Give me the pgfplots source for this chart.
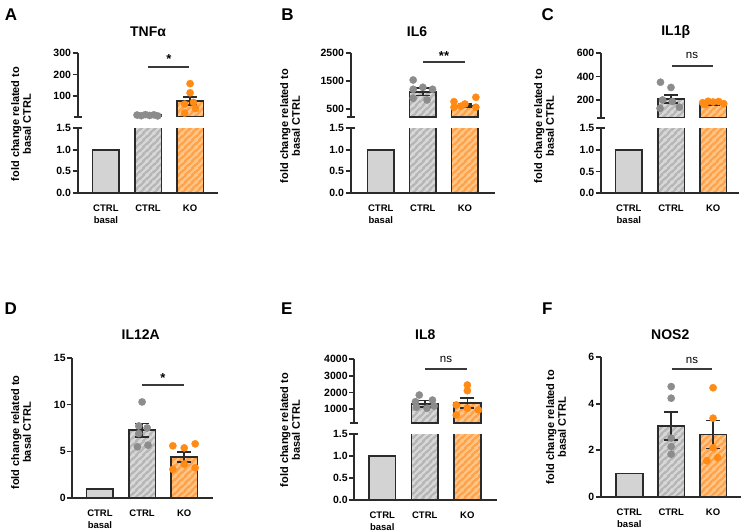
\documentclass[border=0pt]{standalone}
\usepackage{fontspec}
\setmainfont{Liberation Sans}
\usepackage{pgfplots}
\pgfplotsset{compat=1.18}
\usetikzlibrary{patterns}

\definecolor{edge}{HTML}{2B2B2B}
\definecolor{basalfill}{HTML}{D3D3D3}
\definecolor{ctrlfill}{HTML}{B6B6B6}
\definecolor{ctrlstripe}{HTML}{D8D8D8}
\definecolor{kofill}{HTML}{FFA24A}
\definecolor{kostripe}{HTML}{FFC688}
\definecolor{greydot}{HTML}{8C8C8C}
\definecolor{orangedot}{HTML}{FF8A14}
\definecolor{sigline}{HTML}{3A3A3A}

% diagonal stripes, 7pt period, with the corner pieces so tiles join
\pgfdeclarepatternformonly{stripes}{\pgfqpoint{0pt}{0pt}}{\pgfqpoint{7pt}{7pt}}{\pgfqpoint{7pt}{7pt}}{
  \pgfsetlinewidth{2.3pt}
  \pgfpathmoveto{\pgfqpoint{-1pt}{-1pt}}\pgfpathlineto{\pgfqpoint{8pt}{8pt}}
  \pgfpathmoveto{\pgfqpoint{-2pt}{5pt}}\pgfpathlineto{\pgfqpoint{2pt}{9pt}}
  \pgfpathmoveto{\pgfqpoint{5pt}{-2pt}}\pgfpathlineto{\pgfqpoint{9pt}{2pt}}
  \pgfusepath{stroke}
}

\pgfplotsset{
  panel/.style={scale only axis, anchor=south west,
    axis y line*=left, axis line style={-, line width=1.7pt, draw=edge},
    tick style={line width=1.7pt, draw=edge}, tick align=outside, major tick length=5pt,
    ytick pos=left, scaled y ticks=false,
    /pgf/number format/assume math mode=true, /pgf/number format/1000 sep={},
    tick label style={text=black},
    yticklabel style={inner sep=1.5pt, font=\fontsize{10.5}{12}\selectfont\bfseries}},
  cats/.style={axis x line*=bottom, xtick={0,1,2}, xticklabels={{CTRL\\basal},CTRL,KO},
    xticklabel style={align=center, yshift=-3.5pt, font=\fontsize{9.5}{12}\selectfont\bfseries},
    xtick style={draw=none}},
  % lower part of a split axis: bars taller than the break are cut at 2 before drawing
  lowery/.style={ymin=0, ymax=1.5, ytick={0,0.5,1,1.5}, y filter/.expression={min(y,2)},
    yticklabel style={/pgf/number format/fixed, /pgf/number format/fixed zerofill,
      /pgf/number format/precision=1}},
  upper/.style={hide x axis},
  over/.style={scale only axis, anchor=south west, hide axis, clip=false},
  barbase/.style={ybar, bar shift=0pt, bar width=26.7pt, draw=edge, line width=1.7pt},
  basalbar/.style={barbase, fill=basalfill},
  ctrlbar/.style={barbase, preaction={fill=ctrlfill}, pattern=stripes, pattern color=ctrlstripe},
  kobar/.style={barbase, preaction={fill=kofill}, pattern=stripes, pattern color=kostripe},
  ctrldots/.style={only marks, mark=*, mark size=3.6pt, mark options={draw=greydot, fill=greydot}},
  kodots/.style={only marks, mark=*, mark size=3.6pt, mark options={draw=orangedot, fill=orangedot}},
  sem/.style={draw=none, mark=none, error bars/.cd, y dir=both, y explicit,
    error bar style={draw=edge, line width=1.7pt},
    error mark options={rotate=90, draw=edge, line width=1.7pt, mark size=7pt}},
}

\tikzset{
  letter/.style={font=\fontsize{17}{20}\selectfont\bfseries},
  ttl/.style={font=\fontsize{14}{16}\selectfont\bfseries},
  ylab/.style={rotate=90, align=center, font=\fontsize{11}{11.7}\selectfont\bfseries},
  sig/.style={line width=1.7pt, draw=sigline},
  star/.style={font=\fontsize{13}{14}\selectfont\bfseries},
  ns/.style={font=\fontsize{11.5}{13}\selectfont},
  brk/.style={line width=1.7pt, draw=edge},
}

\begin{document}
\begin{tikzpicture}
\path[use as bounding box] (0,0) rectangle (749pt,-532pt);

% ---------------- A: TNFa ----------------
\begin{axis}[panel, cats, lowery, at={(77.7pt,-192.7pt)}, width=140.6pt, height=64.4pt, xmin=-0.67, xmax=2.67]
\addplot[basalbar] coordinates {(0,1)};
\addplot[ctrlbar] coordinates {(1,13)};
\addplot[kobar] coordinates {(2,78)};
\end{axis}
\begin{axis}[panel, upper, at={(77.7pt,-117pt)}, width=140.6pt, height=64.3pt, xmin=-0.67, xmax=2.67,
  ymin=5, ymax=300, ytick={100,200,300}]
\addplot[ctrlbar] coordinates {(1,13)};
\addplot[kobar] coordinates {(2,78)};
\end{axis}
\begin{axis}[over, at={(77.7pt,-117pt)}, width=140.6pt, height=64.3pt, xmin=-0.67, xmax=2.67, ymin=5, ymax=300]
\addplot[ctrldots] coordinates {(0.74,14) (0.84,11) (0.94,16) (1.04,12) (1.14,15) (1.23,10)};
\addplot[kodots] coordinates {(2.0,158) (2.0,116) (1.87,64) (2.13,44) (1.87,23) (2.08,72)};
\addplot[sem] coordinates {(1,13) +- (0,1) (2,78) +- (0,19)};
\end{axis}

% ---------------- B: IL6 ----------------
\begin{axis}[panel, cats, lowery, at={(350.7pt,-192.7pt)}, width=144.3pt, height=64.4pt, xmin=-0.715, xmax=2.715]
\addplot[basalbar] coordinates {(0,1)};
\addplot[ctrlbar] coordinates {(1,1122)};
\addplot[kobar] coordinates {(2,620)};
\end{axis}
\begin{axis}[panel, upper, at={(350.7pt,-117.2pt)}, width=144.3pt, height=64.5pt, xmin=-0.715, xmax=2.715,
  ymin=220, ymax=2500, ytick={500,1500,2500}]
\addplot[ctrlbar] coordinates {(1,1122)};
\addplot[kobar] coordinates {(2,620)};
\end{axis}
\begin{axis}[over, at={(350.7pt,-117.2pt)}, width=144.3pt, height=64.5pt, xmin=-0.715, xmax=2.715, ymin=220, ymax=2500]
\addplot[ctrldots] coordinates {(0.77,1535) (0.77,1207) (1.0,1277) (1.23,1207) (0.77,889) (1.1,829)};
\addplot[kodots] coordinates {(1.74,769) (2.0,687) (2.26,924) (1.74,571) (2.26,571) (1.9,610)};
\addplot[sem] coordinates {(1,1122) +- (0,135) (2,620) +- (0,60)};
\end{axis}

% ---------------- C: IL1b ----------------
\begin{axis}[panel, cats, lowery, at={(601pt,-193.3pt)}, width=138.3pt, height=65pt, xmin=-0.66, xmax=2.62]
\addplot[basalbar] coordinates {(0,1)};
\addplot[ctrlbar] coordinates {(1,211)};
\addplot[kobar] coordinates {(2,170)};
\end{axis}
\begin{axis}[panel, upper, at={(601pt,-117.7pt)}, width=138.3pt, height=65pt, xmin=-0.66, xmax=2.62,
  ymin=54, ymax=600, ytick={200,400,600}]
\addplot[ctrlbar] coordinates {(1,211)};
\addplot[kobar] coordinates {(2,170)};
\end{axis}
\begin{axis}[over, at={(601pt,-117.7pt)}, width=138.3pt, height=65pt, xmin=-0.66, xmax=2.62, ymin=54, ymax=600]
\addplot[ctrldots] coordinates {(0.75,352) (1.0,308) (0.8,203) (1.03,190) (0.74,133) (1.2,142)};
\addplot[kodots] coordinates {(1.75,180) (1.88,192) (2.0,186) (2.13,190) (2.25,172) (1.8,165)};
\addplot[sem] coordinates {(1,211) +- (0,36) (2,170) +- (0,8)};
\end{axis}

% ---------------- D: IL12A ----------------
\begin{axis}[panel, cats, at={(72.3pt,-498.3pt)}, width=141pt, height=140.6pt, xmin=-0.657, xmax=2.69,
  ymin=0, ymax=15, ytick={0,5,10,15}, clip=false]
\addplot[basalbar] coordinates {(0,1)};
\addplot[ctrlbar] coordinates {(1,7.26)};
\addplot[kobar] coordinates {(2,4.42)};
\addplot[ctrldots] coordinates {(1.0,10.28) (0.92,7.72) (1.12,7.51) (0.92,6.91) (0.89,5.49) (1.14,5.67)};
\addplot[kodots] coordinates {(1.73,5.6) (2.0,5.38) (2.26,5.81) (1.73,3.09) (2.0,3.65) (2.26,3.26)};
\addplot[sem] coordinates {(1,7.26) +- (0,0.72) (2,4.42) +- (0,0.54)};
\end{axis}

% ---------------- E: IL8 ----------------
\begin{axis}[panel, cats, lowery, at={(354.3pt,-499.7pt)}, width=142.4pt, height=65.7pt, xmin=-0.657, xmax=2.69]
\addplot[basalbar] coordinates {(0,1)};
\addplot[ctrlbar] coordinates {(1,1330)};
\addplot[kobar] coordinates {(2,1360)};
\end{axis}
\begin{axis}[panel, upper, at={(354.3pt,-423.3pt)}, width=142.4pt, height=64.3pt, xmin=-0.657, xmax=2.69,
  ymin=165, ymax=4000, ytick={1000,2000,3000,4000}]
\addplot[ctrlbar] coordinates {(1,1330)};
\addplot[kobar] coordinates {(2,1360)};
\end{axis}
\begin{axis}[over, at={(354.3pt,-423.3pt)}, width=142.4pt, height=64.3pt, xmin=-0.657, xmax=2.69, ymin=165, ymax=4000]
\addplot[ctrldots] coordinates {(0.87,1850) (0.78,1450) (1.18,1550) (0.8,1120) (1.05,1060) (1.22,1200)};
\addplot[kodots] coordinates {(2.0,2450) (2.0,2110) (1.74,1260) (2.0,1060) (2.26,960) (1.74,660)};
\addplot[sem] coordinates {(1,1330) +- (0,190) (2,1360) +- (0,300)};
\end{axis}

% ---------------- F: NOS2 ----------------
\begin{axis}[panel, cats, at={(601pt,-496.7pt)}, width=139.7pt, height=139.4pt, xmin=-0.676, xmax=2.66,
  ymin=0, ymax=6, ytick={0,2,4,6}, clip=false]
\addplot[basalbar] coordinates {(0,1)};
\addplot[ctrlbar] coordinates {(1,3.05)};
\addplot[kobar] coordinates {(2,2.68)};
\addplot[ctrldots] coordinates {(1.0,4.74) (1.0,4.24) (1.0,2.52) (1.0,2.16) (1.0,1.83)};
\addplot[kodots] coordinates {(2.0,4.69) (2.0,3.38) (2.0,2.11) (1.85,1.55) (2.11,1.68)};
\addplot[sem] coordinates {(1,3.05) +- (0,0.6) (2,2.68) +- (0,0.6)};
\end{axis}

% break marks on the split axes
\foreach \x/\ya/\yb in {77.7/117/128.3, 350.7/117.2/128.3, 601/117.7/128.3, 354.3/423.3/434} {
  \draw[brk] (\x pt-4pt,-\ya pt) -- (\x pt+4pt,-\ya pt);
  \draw[brk] (\x pt-4pt,-\yb pt) -- (\x pt+4pt,-\yb pt);
}

% panel letters
\node[letter] at (11pt,-15pt) {A};
\node[letter] at (287.5pt,-14.3pt) {B};
\node[letter] at (547.8pt,-14.3pt) {C};
\node[letter] at (10.8pt,-309pt) {D};
\node[letter] at (286.7pt,-309pt) {E};
\node[letter] at (547.2pt,-309pt) {F};

% titles
\node[ttl] at (148pt,-32pt) {TNFα};
\node[ttl] at (417pt,-32pt) {IL6};
\node[ttl] at (675.7pt,-32pt) {IL1β};
\node[ttl] at (140.7pt,-335pt) {IL12A};
\node[ttl] at (425.3pt,-335pt) {IL8};
\node[ttl] at (670.3pt,-335pt) {NOS2};

% y labels
\node[ylab] at (21pt,-124pt) {fold change related to\\basal CTRL};
\node[ylab] at (290pt,-126pt) {fold change related to\\basal CTRL};
\node[ylab] at (544pt,-126pt) {fold change related to\\basal CTRL};
\node[ylab] at (21pt,-432.5pt) {fold change related to\\basal CTRL};
\node[ylab] at (290pt,-430pt) {fold change related to\\basal CTRL};
\node[ylab] at (556pt,-427pt) {fold change related to\\basal CTRL};

% significance
\draw[sig] (148.3pt,-66.7pt) -- (189.3pt,-66.7pt);
\node[star] at (169pt,-59.3pt) {*};
\draw[sig] (423.3pt,-61.7pt) -- (465pt,-61.7pt);
\node[star] at (444pt,-56pt) {**};
\draw[sig] (671.7pt,-66pt) -- (713.3pt,-66pt);
\node[ns] at (692pt,-55pt) {ns};
\draw[sig] (142.3pt,-385pt) -- (184pt,-385pt);
\node[star] at (163pt,-377.6pt) {*};
\draw[sig] (425pt,-368.7pt) -- (467.3pt,-368.7pt);
\node[ns] at (446pt,-359.3pt) {ns};
\draw[sig] (671.7pt,-369pt) -- (712.3pt,-369pt);
\node[ns] at (692pt,-360pt) {ns};
\end{tikzpicture}
\end{document}
